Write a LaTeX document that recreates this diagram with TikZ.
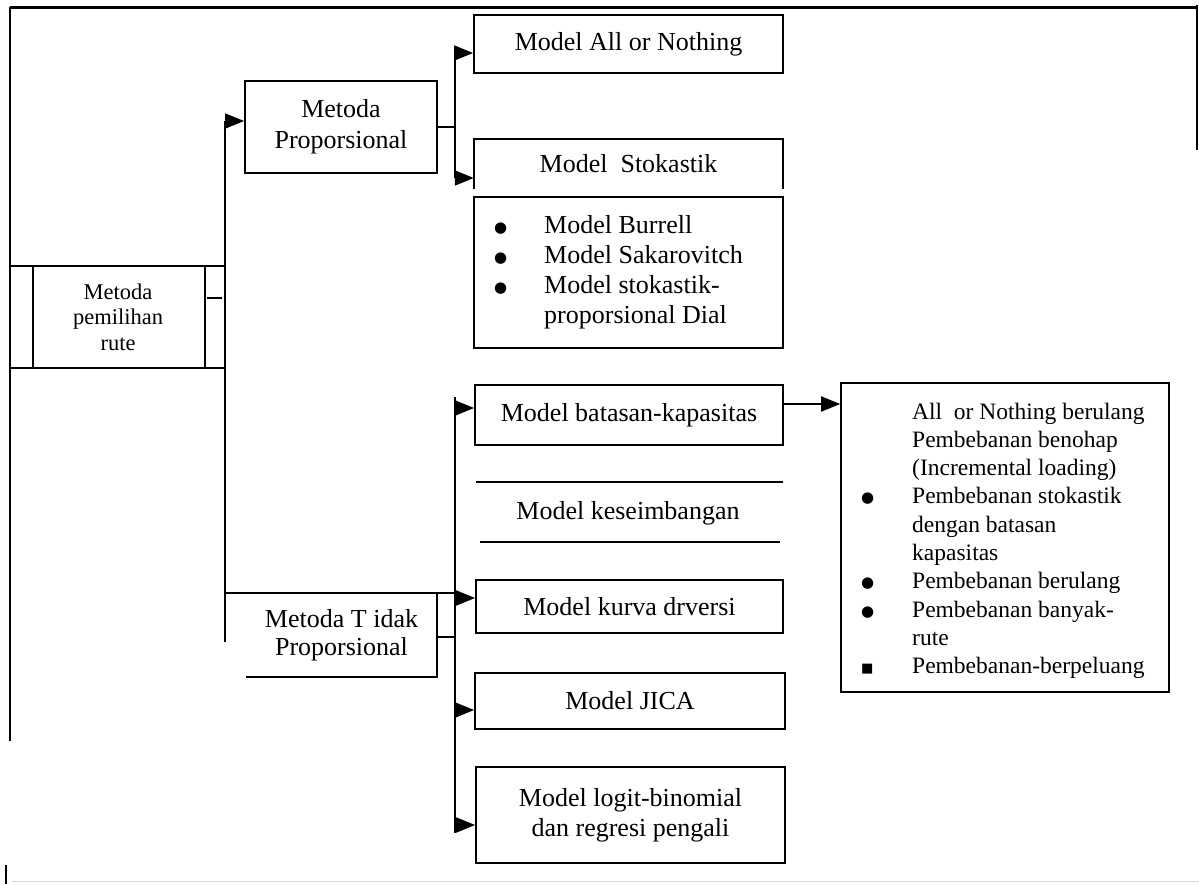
\documentclass[tikz,border=0pt]{standalone}
\usepackage{fontspec}
\setmainfont{Liberation Serif}
\newfontfamily\dejavu{DejaVu Sans}
\usetikzlibrary{arrows.meta,calc}
\newcommand\fsA{\fontsize{26}{31}\selectfont}
\newcommand\mybul{\raisebox{1pt}{\dejavu\fontsize{15}{15}\selectfont ●}}
\newcommand\mysq{\raisebox{1pt}{\dejavu\fontsize{13}{13}\selectfont ■}}
\begin{document}
\begin{tikzpicture}[x=1pt,y=-1pt,
  ln/.style={line width=1.8pt},
  arr/.style={line width=1.8pt,-{Triangle[length=19pt,width=15pt]}},
  box/.style={draw,line width=1.8pt,inner sep=0pt,align=center,font=\fsA},
  plain/.style={inner sep=0pt,align=center,font=\fsA}]
\useasboundingbox (0,0) rectangle (1199,884);
% outer frame
\draw[line width=3pt] (10,7) -- (1197,7);
\draw[line width=2.4pt] (10,7) -- (10,741);
\draw[line width=2pt] (1197,5) -- (1197,150);
\draw[line width=1.5pt] (6,865) -- (6,884);
\draw[gray!30,line width=1pt] (12,881) -- (1199,881);

% root
\node[draw,line width=1.6pt,inner sep=0pt,minimum width=215pt,minimum height=102pt,
  align=center,font={\fontsize{22.5}{25.5}\selectfont}] (rute) at (118,317) {Metoda\\pemilihan\\rute};
\draw[line width=1.2pt] (33,266) -- (33,368);
\draw[line width=1.6pt] (205,266) -- (205,368);
\draw[line width=1.4pt] (207,298) -- (222,298);

% level 1
\node[box,minimum width=192pt,minimum height=92pt] (prop) at (341,127) {Metoda\\Proporsional};
\node[plain,minimum width=191pt,minimum height=83pt,font={\fontsize{26}{28}\selectfont}] (tidak) at (341.5,635) {Metoda T idak\\Proporsional};
\draw[ln] (tidak.north east) -- (tidak.south east) -- (tidak.south west);

% level 2 (proporsional)
\node[box,minimum width=309pt,minimum height=58pt] (aon) at (628.5,44) {Model All or Nothing};
\node[plain,minimum width=309pt,minimum height=49pt] (stok) at (628.5,164) {Model~ Stokastik};
\draw[ln] (stok.south west) -- (stok.north west) -- (stok.north east) -- (stok.south east);
\node[draw,line width=1.8pt,minimum width=309pt,minimum height=151pt,inner sep=0pt] (list) at (628.5,272.5) {};
\node[inner sep=0pt,anchor=north west,font={\fontsize{26}{30}\selectfont}] (listtext) at (494,212)
  {\begin{tabular}{@{}p{50pt}@{}l@{}}
   \mybul & Model Burrell\\
   \mybul & Model Sakarovitch\\
   \mybul & Model stokastik-\\
          & proporsional Dial
   \end{tabular}};

% level 2 (tidak proporsional)
\node[box,minimum width=308pt,minimum height=60pt] (bat) at (629,415) {Model batasan-kapasitas};
\node[plain] (kes) at (628,513) {Model keseimbangan};
\draw[ln] (476,482) -- (783,482);
\draw[ln] (480,542) -- (780,542);
\node[box,minimum width=307pt,minimum height=53pt] (kurva) at (629.5,606.5) {Model kurva drversi};
\node[box,minimum width=310pt,minimum height=56pt] (jica) at (630,701) {Model JICA};
\node[box,minimum width=309pt,minimum height=96pt,font={\fontsize{26}{30}\selectfont}] (logit) at (630.5,815) {Model logit-binomial\\dan regresi pengali};

% level 3
\node[draw,line width=1.6pt,minimum width=328pt,minimum height=309pt,inner sep=0pt] (right) at (1005,537.5) {};
\node[inner sep=0pt,anchor=north west,font={\fontsize{23.5}{28.3}\selectfont}] (righttext) at (861,399)
  {\begin{tabular}{@{}p{51pt}@{}l@{}}
          & All~ or Nothing berulang\\
          & Pembebanan benohap\\
          & (Incremental loading)\\
   \mybul & Pembebanan stokastik\\
          & dengan batasan\\
          & kapasitas\\
   \mybul & Pembebanan berulang\\
   \mybul & Pembebanan banyak-\\
          & rute\\
   \mysq  & Pembebanan-berpeluang
   \end{tabular}};

% connectors: main bus
\coordinate (mb1) at (225,121);
\coordinate (mb2) at (225,642);
\draw[ln] (mb1) -- (mb2);
\draw[arr] (mb1) -- (mb1 -| prop.west);

% upper bus
\coordinate (ub1) at (455,53);
\coordinate (ub2) at (455,178);
\draw[ln] (ub1) -- (ub2);
\draw[ln] (prop.east) -- (prop.east -| ub1);
\draw[arr] (ub1) -- (ub1 -| aon.west);
\draw[arr] (ub2) -- (ub2 -| stok.west);

% lower bus
\coordinate (lb1) at (455,397);
\coordinate (lb2) at (455,833);
\coordinate (la1) at (455,408);
\coordinate (la2) at (455,598);
\coordinate (la3) at (455,710);
\coordinate (la4) at (455,825);
\draw[ln] (lb1) -- (lb2);
\draw[ln] (tidak.north west -| mb1) -- (tidak.north -| lb1);
\draw[ln] ([yshift=-2pt]tidak.east) -- ([yshift=-2pt]tidak.east -| lb1);
\draw[arr] (la1) -- (la1 -| bat.west);
\draw[arr] (la2) -- (la2 -| kurva.west);
\draw[arr] (la3) -- (la3 -| jica.west);
\draw[arr] (la4) -- (la4 -| logit.west);

% batasan -> right
\coordinate (bk) at ([yshift=11pt]bat.east);
\draw[arr] (bk) -- (bk -| right.west);
\end{tikzpicture}
\end{document}
